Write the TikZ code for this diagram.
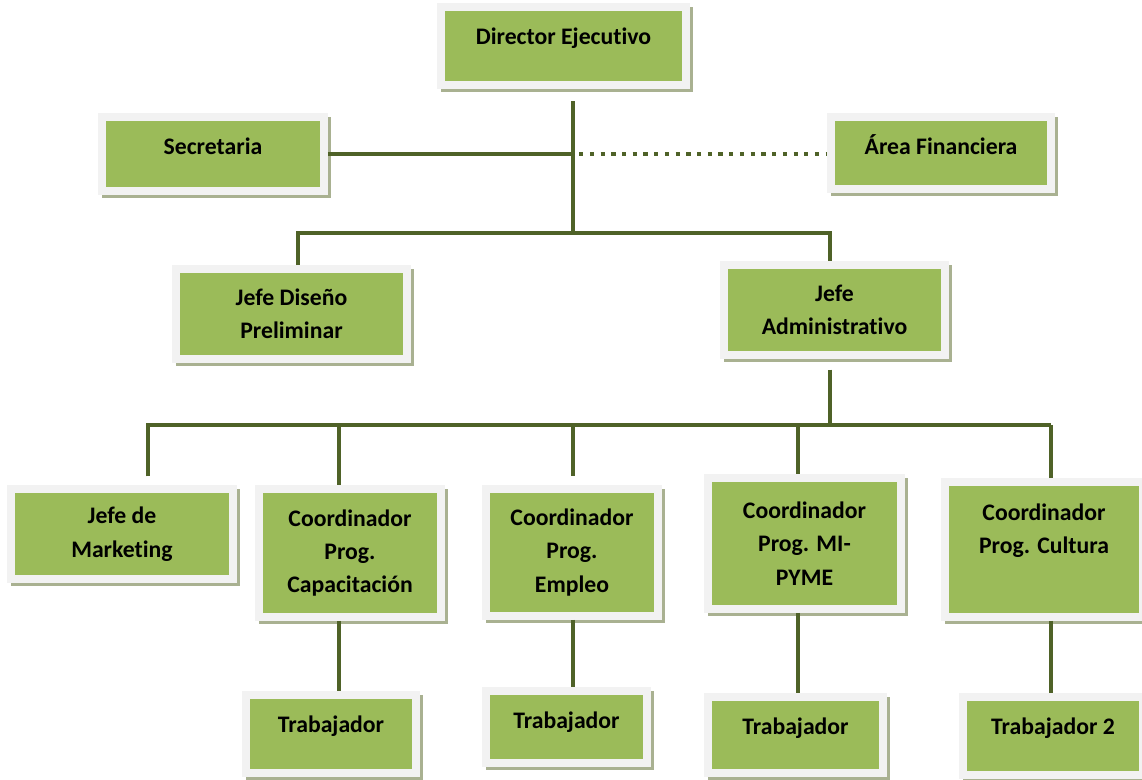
\documentclass[tikz,border=0pt]{standalone}
\usepackage{fontspec}
\setmainfont{Carlito}[Ligatures=NoCommon]
\usepackage{xcolor}
\usepackage{tikz}
\usetikzlibrary{shadows}

\definecolor{verde}{HTML}{9BBB59}
\definecolor{marco}{HTML}{F2F2F2}
\definecolor{sombra}{HTML}{A9B191}
\definecolor{oliva}{HTML}{4F6228}

\tikzset{
  puesto/.style={rectangle, fill=verde, draw=marco, line width=4.5pt, align=center,
    font=\bfseries\fontsize{13.5}{19}\selectfont,
    drop shadow={shadow xshift=2pt, shadow yshift=-2pt, fill=sombra, draw=sombra,
      line width=4.5pt, opacity=1}},
  sube/.style={text height=9pt, text depth=#1},
  enlace/.style={draw=oliva, line width=2.8pt},
  punteada/.style={enlace, dash pattern=on 2.4pt off 3.7pt}
}

\begin{document}
\begin{tikzpicture}[x=0.02cm, y=-0.02cm]
        \useasboundingbox (0,0) rectangle (1142,779);

        % Direccion
        \node[puesto, sube=10.5pt, minimum width=4.90cm, minimum height=1.56cm] (dir) at (563.5,46) {Director Ejecutivo};
        \node[puesto, sube=8.3pt, minimum width=4.44cm, minimum height=1.48cm] (sec) at (213,154) {Secretaria};
        \node[puesto, sube=7pt, minimum width=4.40cm, minimum height=1.44cm] (fin) at (941,153) {Área Financiera};

        % Jefaturas
        \node[puesto, minimum width=4.62cm, minimum height=1.80cm] (dis) at (291.5,314) {Jefe Diseño\\Preliminar};
        \node[puesto, minimum width=4.42cm, minimum height=1.80cm] (adm) at (834.5,310) {Jefe\\Administrativo};

        % Coordinaciones
        \node[puesto, minimum width=4.44cm, minimum height=1.80cm] (mkt) at (122,534) {Jefe de\\Marketing};
        \node[puesto, minimum width=3.64cm, minimum height=2.56cm] (cap) at (350,553) {Coordinador\\Prog.\\Capacitación};
        \node[puesto, minimum width=3.44cm, minimum height=2.54cm] (emp) at (572,552.5) {Coordinador\\Prog.\\Empleo};
        \node[puesto, minimum width=3.86cm, minimum height=2.62cm] (pym) at (804.5,543.5) {Coordinador\\Prog. MI-\\PYME};
        \node[puesto, text depth=24pt, minimum width=3.96cm, minimum height=2.70cm] (cul) at (1044,549.5) {Coordinador\\Prog. Cultura};

        % Trabajadores
        \node[puesto, sube=10.5pt, minimum width=3.40cm, minimum height=1.56cm] (t1) at (331,734) {Trabajador};
        \node[puesto, sube=7pt, minimum width=3.22cm, minimum height=1.44cm] (t2) at (566.5,727) {Trabajador};
        \node[puesto, sube=9.4pt, minimum width=3.50cm, minimum height=1.52cm] (t3) at (795.5,735) {Trabajador};
        \node[puesto, sube=10.5pt, minimum width=3.60cm, minimum height=1.56cm] (t4) at (1053,736) {Trabajador 2};

        % Tronco superior
        \coordinate (t0) at (573,233);
        \coordinate (a0) at (298,233);
        \coordinate (a1) at (830,233);
        \draw[enlace, shorten <=7pt] (dir.south -| t0) -- (t0);
        \draw[enlace] (sec.east) -- (sec.east -| t0);
        \draw[punteada, shorten <=3.5pt] (sec.east -| t0) -- (sec.east -| fin.west);
        \draw[enlace] (dis.north -| a0) |- (a1) -- (a1 |- adm.north);

        % Barra inferior
        \coordinate (b0) at (830,425);
        \coordinate (b1) at (148,425);
        \coordinate (b2) at (1051,425);
        \draw[enlace, shorten <=6pt] (adm.south -| b0) -- (b0);
        \draw[enlace] (b1 |- mkt.north) [shorten <=5pt] -- (b1) -- (b2);
        \foreach \x/\c/\t/\s in {339/cap/t1/0, 573/emp/t2/5, 798/pym/t3/0, 1051/cul/t4/0} {
            \draw[enlace, shorten >=\s pt] (\x,425) -- (\c.north -| \x,0);
            \draw[enlace] (\c.south -| \x,0) -- (\t.north -| \x,0);
        }
\end{tikzpicture}
\end{document}
